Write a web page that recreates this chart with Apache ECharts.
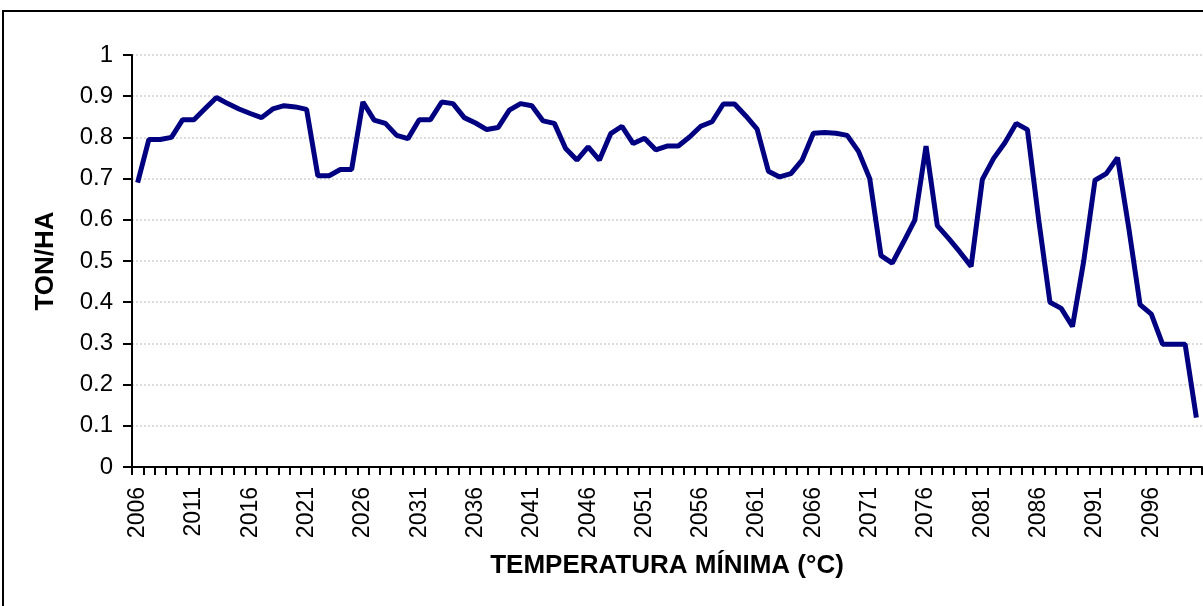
<!DOCTYPE html>
<html>
<head>
<meta charset="utf-8">
<script src="https://cdn.jsdelivr.net/npm/echarts@6/dist/echarts.min.js"></script>
<style>
  html, body { margin: 0; padding: 0; background: #fff; }
  #chart { width: 1203px; height: 606px; }
</style>
</head>
<body>
<div id="chart"></div>
<script>
// años 2006 - 2100
const years = Array.from({ length: 95 }, (_, i) => String(2006 + i))

// rendimiento (ton/ha)
const yieldValues = [
  0.69, 0.795, 0.795, 0.80, 0.843, 0.843, 0.87, 0.897, 0.882, 0.869,
  0.858, 0.848, 0.869, 0.877, 0.874, 0.868, 0.707, 0.707, 0.722, 0.722,
  0.886, 0.842, 0.834, 0.805, 0.797, 0.843, 0.843, 0.886, 0.882, 0.848,
  0.835, 0.819, 0.824, 0.866, 0.882, 0.877, 0.840, 0.834, 0.773, 0.745,
  0.777, 0.745, 0.809, 0.827, 0.785, 0.798, 0.770, 0.779, 0.779, 0.801,
  0.827, 0.838, 0.881, 0.881, 0.852, 0.82, 0.718, 0.704, 0.712, 0.745,
  0.81, 0.812, 0.81, 0.805, 0.766, 0.70, 0.513, 0.495, 0.546, 0.599,
  0.779, 0.586, 0.555, 0.522, 0.487, 0.698, 0.749, 0.787, 0.834, 0.819,
  0.60, 0.40, 0.385, 0.341, 0.50, 0.696, 0.712, 0.751, 0.58, 0.394,
  0.371, 0.298, 0.298, 0.298, 0.12
]

const xTitle = 'TEMPERATURA MÍNIMA (°C)'
const yTitle = 'TON/HA'

const FONT = '"Liberation Sans", Arial, sans-serif'

const chart = echarts.init(document.getElementById('chart'), null, { renderer: 'canvas' })

chart.setOption({
  animation: false,
  backgroundColor: '#fff',
  textStyle: { fontFamily: FONT },
  graphic: [{
    type: 'rect',
    shape: { x: 3, y: 11, width: 1400, height: 800 },
    style: { fill: 'none', stroke: '#000', lineWidth: 2 },
    silent: true
  }],
  grid: { left: 132, right: 1, top: 55, bottom: 139 },
  xAxis: {
    type: 'category',
    data: years,
    boundaryGap: true,
    name: xTitle,
    nameLocation: 'middle',
    nameGap: 86,
    nameTextStyle: { fontFamily: FONT, fontSize: 26, fontWeight: 'bold', color: '#000' },
    axisLine: { lineStyle: { color: '#000', width: 2 } },
    axisTick: { show: true, interval: 0, length: 8, lineStyle: { color: '#000', width: 2 } },
    axisLabel: {
      interval: 4,
      rotate: 90,
      margin: 20,
      fontFamily: FONT,
      fontSize: 23,
      color: '#000'
    },
    splitLine: { show: false }
  },
  yAxis: {
    type: 'value',
    min: 0,
    max: 1,
    interval: 0.1,
    name: yTitle,
    nameLocation: 'middle',
    nameGap: 73,
    nameRotate: 90,
    nameTextStyle: { fontFamily: FONT, fontSize: 26, fontWeight: 'bold', color: '#000' },
    axisLine: { show: true, lineStyle: { color: '#000', width: 2 } },
    axisTick: { show: true, length: 9, lineStyle: { color: '#000', width: 2 } },
    axisLabel: { margin: 19, fontFamily: FONT, fontSize: 24, color: '#000' },
    splitLine: { show: true, lineStyle: { color: '#dcdcdc', type: 'dotted', width: 2 } }
  },
  series: [{
    type: 'line',
    data: yieldValues,
    showSymbol: false,
    symbol: 'none',
    lineStyle: { color: '#000080', width: 5 },
    itemStyle: { color: '#000080' }
  }]
})
</script>
</body>
</html>
